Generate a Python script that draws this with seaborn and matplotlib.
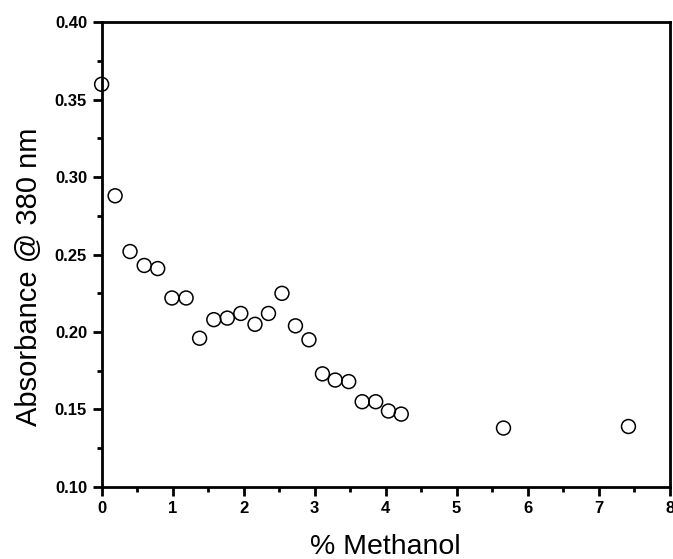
import matplotlib
matplotlib.use("Agg")
import matplotlib.pyplot as plt
from matplotlib.ticker import MultipleLocator
import pandas as pd
import seaborn as sns

# % methanol vs absorbance at 380 nm
methanol = [0.00, 0.19, 0.40, 0.60, 0.79, 0.99, 1.19, 1.38, 1.58, 1.77,
            1.96, 2.16, 2.35, 2.54, 2.73, 2.92, 3.11, 3.29, 3.48, 3.67,
            3.86, 4.04, 4.22, 5.66, 7.42]
absorbance = [0.360, 0.288, 0.252, 0.243, 0.241, 0.222, 0.222, 0.196, 0.208, 0.209,
              0.212, 0.205, 0.212, 0.225, 0.204, 0.195, 0.173, 0.169, 0.168, 0.155,
              0.155, 0.149, 0.147, 0.138, 0.139]

df = pd.DataFrame({"methanol": methanol, "absorbance": absorbance})

sns.set_style("ticks", {"text.color": "black", "axes.labelcolor": "black",
                        "xtick.color": "black", "ytick.color": "black"})
plt.rcParams['font.family'] = ['Liberation Sans', 'DejaVu Sans']

fig = plt.figure(figsize=(6.73, 5.59), dpi=100)
ax = fig.add_axes([0.151, 0.129, 0.844, 0.831])

sns.scatterplot(data=df, x="methanol", y="absorbance", ax=ax,
                s=100, facecolor="none", edgecolor="black", linewidth=1.1,
                clip_on=False, zorder=3)

ax.set_xlim(0, 8)
ax.set_ylim(0.10, 0.40)
ax.xaxis.set_major_locator(MultipleLocator(1))
ax.xaxis.set_minor_locator(MultipleLocator(0.5))
ax.yaxis.set_major_locator(MultipleLocator(0.05))
ax.yaxis.set_minor_locator(MultipleLocator(0.025))
ax.yaxis.set_major_formatter(lambda v, p: f"{v:.2f}")

for sp in ax.spines.values():
    sp.set_visible(True)
    sp.set_linewidth(2)
    sp.set_color("black")

ax.tick_params(which="major", direction="out", length=6.5, width=2,
               labelsize=12, top=False, right=False, colors="black")
ax.tick_params(which="minor", direction="out", length=3.5, width=2,
               top=False, right=False, colors="black")
ax.tick_params(axis="y", which="major", pad=4)
for lbl in ax.get_xticklabels() + ax.get_yticklabels():
    lbl.set_fontweight("bold")

ax.set_xlabel("% Methanol", fontsize=20.5, color="black")
ax.set_ylabel("Absorbance @ 380 nm", fontsize=21, color="black")
ax.xaxis.set_label_coords(0.5, -0.102)
ax.yaxis.set_label_coords(-0.104, 0.452)

fig.savefig("out.png", dpi=100)
